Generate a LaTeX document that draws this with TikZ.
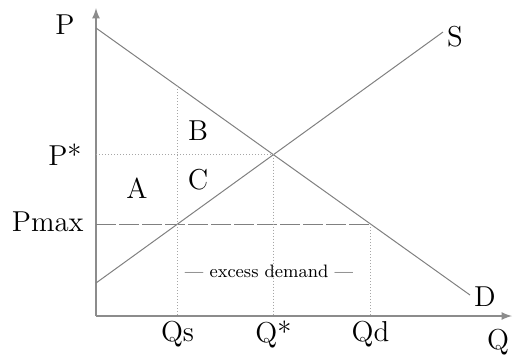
\documentclass[tikz,border=0pt]{standalone}
\usepackage{tikz}
\usetikzlibrary{arrows,positioning,calc,intersections}

\begin{document}
\begin{tikzpicture}[x=5pt,y=5pt,
  axis/.style={draw=gray!90,line width=0.8pt},
  curve/.style={draw=gray,line width=0.5pt},
  guide/.style={draw=gray!70,densely dotted,line width=0.5pt},
  ceiling/.style={draw=gray,dash pattern=on 10pt off 1.5pt,line width=0.5pt},
  lbl/.style={font=\Large,inner sep=1pt}
]
\useasboundingbox (-9.6,-4.0) rectangle (41.8,31.6);
% Axes
\coordinate (O) at (0,0);
\coordinate (Ptop) at (0,30.8);
\coordinate (Qend) at (41.6,0);
\draw[axis,-latex] (O) -- (Ptop);
\draw[axis,-latex] (O) -- (Qend);
% Demand and supply
\coordinate (D0) at (0,28.8);
\coordinate (D1) at (37.4,2.1);
\coordinate (S0) at (0,3.3);
\coordinate (S1) at (34.7,28.4);
\draw[curve,name path=dem] (D0) -- (D1);
\draw[curve,name path=sup] (S0) -- (S1);
\path[name intersections={of=dem and sup,by=E}];
% Price ceiling
\coordinate (Pm) at (0,9.2);
\path[name path=ceil] (Pm) -- (41,9.2);
\path[name intersections={of=ceil and dem,by=Dm}];
\path[name intersections={of=ceil and sup,by=Sm}];
\path[name path=qsup] (Sm |- O) -- ++(0,30);
\path[name intersections={of=qsup and dem,by=Qtop}];
\draw[ceiling] (Pm) -- (Dm);
% Guides
\draw[guide] (O |- E) -- (E);
\draw[guide] (E) -- (E |- O);
\draw[guide] (Qtop) -- (Sm |- O);
\draw[guide] (Dm) -- (Dm |- O);
% Labels
\node[lbl] (lP) at (-3.1,29.1) {P};
\node[lbl,anchor=east] (lPstar) at (-1.2,16.1) {P*};
\node[lbl,anchor=east] (lPmax) at (-1.0,9.4) {Pmax};
\node[lbl] (lS) at (35.9,27.9) {S};
\node[lbl] (lD) at (38.9,1.9) {D};
\node[lbl] (lA) at (4.1,12.8) {A};
\node[lbl] (lB) at (10.2,18.5) {B};
\node[lbl] (lC) at (10.2,13.6) {C};
\node[lbl] (lQs) at (Sm |- 0,-1.8) {Qs};
\node[lbl] (lQstar) at (E |- 0,-1.8) {Q*};
\node[lbl] (lQd) at (Dm |- 0,-1.8) {Qd};
\node[lbl] (lQ) at (40.2,-2.6) {Q};
\node[font=\small] (lexcess) at (17.3,4.5) {--- excess demand ---};
\end{tikzpicture}
\end{document}
